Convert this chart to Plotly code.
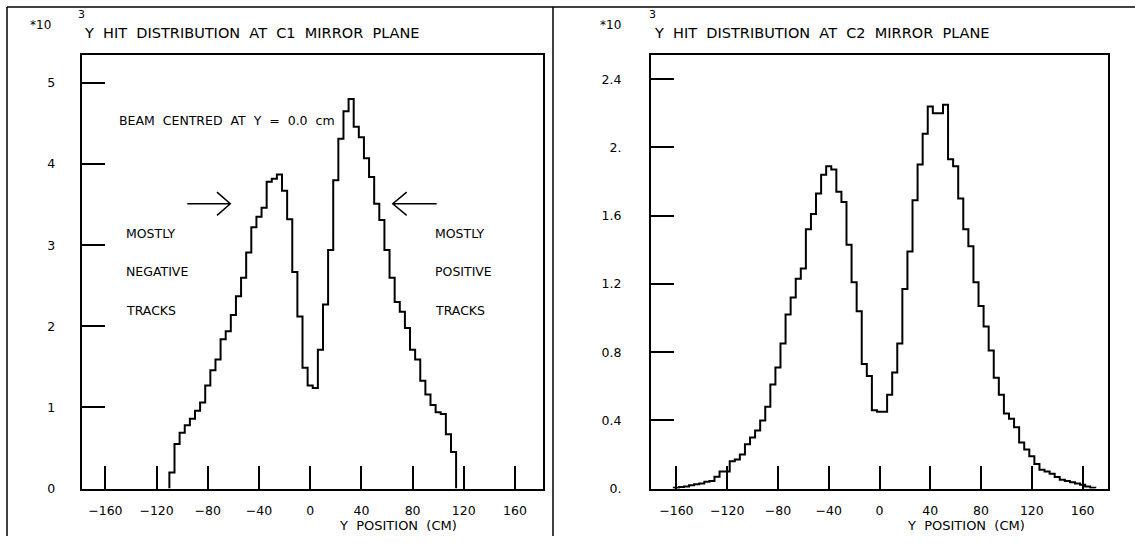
import plotly.graph_objects as go

W, H = 1135, 543
BIN_WIDTH = 4

# ---- C1 mirror plane histogram (counts in units of 10^3) ----
C1_CENTERS = [-108, -104, -100, -96, -92, -88, -84, -80, -76, -72, -68, -64, -60, -56,
              -52, -48, -44, -40, -36, -32, -28, -24, -20, -16, -12, -8, -4, 0,
              4, 8, 12, 16, 20, 24, 28, 32, 36, 40, 44, 48, 52, 56,
              60, 64, 68, 72, 76, 80, 84, 88, 92, 96, 100, 104, 108, 112]
C1_COUNTS = [0.20, 0.55, 0.69, 0.78, 0.86, 0.96, 1.06, 1.27, 1.46, 1.59, 1.84, 1.94, 2.14, 2.37,
             2.60, 2.91, 3.22, 3.35, 3.46, 3.78, 3.82, 3.87, 3.67, 3.32, 2.67, 2.12, 1.49, 1.27,
             1.24, 1.71, 2.27, 2.94, 3.80, 4.31, 4.65, 4.80, 4.46, 4.33, 4.07, 3.84, 3.51, 3.31,
             2.94, 2.60, 2.30, 2.18, 1.98, 1.71, 1.59, 1.33, 1.16, 1.03, 0.94, 0.92, 0.67, 0.45]

# ---- C2 mirror plane histogram (counts in units of 10^3) ----
C2_CENTERS = [-160, -156, -152, -148, -144, -140, -136, -132, -128, -124, -120, -116, -112, -108,
              -104, -100, -96, -92, -88, -84, -80, -76, -72, -68, -64, -60, -56, -52,
              -48, -44, -40, -36, -32, -28, -24, -20, -16, -12, -8, -4, 0, 4,
              8, 12, 16, 20, 24, 28, 32, 36, 40, 44, 48, 52, 56, 60,
              64, 68, 72, 76, 80, 84, 88, 92, 96, 100, 104, 108, 112, 116,
              120, 124, 128, 132, 136, 140, 144, 148, 152, 156, 160, 164, 168]
C2_COUNTS = [0.005, 0.010, 0.013, 0.020, 0.025, 0.030, 0.040, 0.045, 0.070, 0.100, 0.100, 0.160, 0.170, 0.200,
             0.260, 0.300, 0.340, 0.400, 0.480, 0.610, 0.710, 0.850, 1.020, 1.120, 1.230, 1.290, 1.520, 1.610,
             1.730, 1.840, 1.890, 1.870, 1.740, 1.680, 1.430, 1.210, 1.040, 0.730, 0.660, 0.460, 0.450, 0.450,
             0.550, 0.680, 0.850, 1.170, 1.390, 1.690, 1.900, 2.080, 2.240, 2.200, 2.200, 2.250, 1.930, 1.890,
             1.700, 1.520, 1.420, 1.210, 1.070, 0.950, 0.810, 0.650, 0.550, 0.440, 0.410, 0.360, 0.270, 0.230,
             0.190, 0.145, 0.110, 0.100, 0.087, 0.068, 0.052, 0.045, 0.038, 0.030, 0.022, 0.012, 0.005]

X_TICKS = [-160, -120, -80, -40, 0, 40, 80, 120, 160]
C1_YTICKS = [0, 1, 2, 3, 4, 5]
C1_YTICKTEXT = ["0", "1", "2", "3", "4", "5"]
C2_YTICKS = [0, 0.4, 0.8, 1.2, 1.6, 2.0, 2.4]
C2_YTICKTEXT = ["0.", "0.4", "0.8", "1.2", "1.6", "2.", "2.4"]

TITLE_C1 = "Y  HIT  DISTRIBUTION  AT  C1  MIRROR  PLANE"
TITLE_C2 = "Y  HIT  DISTRIBUTION  AT  C2  MIRROR  PLANE"
X_TITLE = "Y  POSITION  (CM)"

FONT = "DejaVu Sans"


def step_xy(centers, counts, w):
    xs = [centers[0] - w / 2]
    ys = [0]
    for c, v in zip(centers, counts):
        xs += [c - w / 2, c + w / 2]
        ys += [v, v]
    xs.append(centers[-1] + w / 2)
    ys.append(0)
    return xs, ys


def px(x):
    return x / W


def py(y):
    return 1 - y / H


fig = go.Figure()
x1, y1 = step_xy(C1_CENTERS, C1_COUNTS, BIN_WIDTH)
x2, y2 = step_xy(C2_CENTERS, C2_COUNTS, BIN_WIDTH)
fig.add_trace(go.Scatter(x=x1, y=y1, mode="lines", line=dict(color="black", width=2),
                         xaxis="x", yaxis="y", hoverinfo="skip"))
fig.add_trace(go.Scatter(x=x2, y=y2, mode="lines", line=dict(color="black", width=2),
                         xaxis="x2", yaxis="y2", hoverinfo="skip"))

ydom = [py(495), py(56)]
axis_common = dict(showline=True, linecolor="black", linewidth=2, mirror=True,
                   showgrid=False, zeroline=False, ticks="inside", ticklen=23,
                   tickwidth=2, tickcolor="black",
                   tickfont=dict(family=FONT, size=12.5, color="black"))

fig.update_layout(
    width=W, height=H,
    margin=dict(l=0, r=0, t=0, b=0),
    paper_bgcolor="white", plot_bgcolor="white",
    showlegend=False,
    xaxis=dict(domain=[px(81.7), px(542.5)], range=[-178.5, 181.5], anchor="y",
               tickvals=X_TICKS, ticklabelstandoff=9, **axis_common),
    yaxis=dict(domain=ydom, range=[0, 5.34], anchor="x",
               tickvals=C1_YTICKS, ticktext=C1_YTICKTEXT, ticklabelstandoff=22, **axis_common),
    xaxis2=dict(domain=[px(651), px(1108)], range=[-180, 180], anchor="y2",
                tickvals=X_TICKS, ticklabelstandoff=9, **axis_common),
    yaxis2=dict(domain=ydom, range=[0, 2.54], anchor="x2",
                tickvals=C2_YTICKS, ticktext=C2_YTICKTEXT, ticklabelstandoff=25, **axis_common),
)

ann = []
tf = dict(family=FONT, size=14.5, color="black")
sf = dict(family=FONT, size=12, color="black")
for (mx, sx, tx, title, xref) in [(40, 81, 82, TITLE_C1, "x"), (610, 652, 652, TITLE_C2, "x2")]:
    ann.append(dict(text="*10", x=px(mx), y=py(25), xref="paper", yref="paper",
                    showarrow=False, font=sf, xanchor="center", yanchor="middle"))
    ann.append(dict(text="3", x=px(sx), y=py(15), xref="paper", yref="paper",
                    showarrow=False, font=dict(family=FONT, size=11, color="black"),
                    xanchor="center", yanchor="middle"))
    ann.append(dict(text=title, x=px(tx), y=py(33), xref="paper", yref="paper",
                    showarrow=False, font=tf, xanchor="left", yanchor="middle"))
    ann.append(dict(text=X_TITLE, x=68.5, y=py(532), xref=xref, yref="paper",
                    showarrow=False, font=dict(family=FONT, size=13, color="black"),
                    xanchor="center", yanchor="middle"))

lf = dict(family=FONT, size=12.5, color="black")
ann.append(dict(text="BEAM  CENTRED  AT  Y  =  0.0  cm", x=-151, y=4.54, xref="x", yref="y",
                showarrow=False, font=lf, xanchor="left", yanchor="middle"))
for txt, yy in [("MOSTLY", 3.14), ("NEGATIVE", 2.67), ("TRACKS", 2.20)]:
    ann.append(dict(text=txt, x=-145.6, y=yy, xref="x", yref="y", showarrow=False,
                    font=lf, xanchor="left", yanchor="middle"))
for txt, yy in [("MOSTLY", 3.14), ("POSITIVE", 2.67), ("TRACKS", 2.20)]:
    ann.append(dict(text=txt, x=95.7, y=yy, xref="x", yref="y", showarrow=False,
                    font=lf, xanchor="left", yanchor="middle"))
fig.update_layout(annotations=ann)

shapes = [
    # arrows in left panel
    dict(type="path", xref="x", yref="y",
         path="M -96,3.51 L -62.4,3.51 M -72.8,3.653 L -62.4,3.51 L -72.8,3.367",
         line=dict(color="black", width=1.5)),
    dict(type="path", xref="x", yref="y",
         path="M 98.8,3.51 L 64.5,3.51 M 75.4,3.653 L 64.5,3.51 L 75.4,3.367",
         line=dict(color="black", width=1.5)),
    # outer frame
    dict(type="line", xref="paper", yref="paper", x0=px(7), x1=1, y0=py(7), y1=py(7),
         line=dict(color="black", width=1.5)),
    dict(type="line", xref="paper", yref="paper", x0=px(7), x1=px(7), y0=py(7), y1=0,
         line=dict(color="black", width=1.5)),
    dict(type="line", xref="paper", yref="paper", x0=px(553), x1=px(553), y0=py(7), y1=0,
         line=dict(color="black", width=1.5)),
]
fig.update_layout(shapes=shapes)

fig.write_html("out.html")
